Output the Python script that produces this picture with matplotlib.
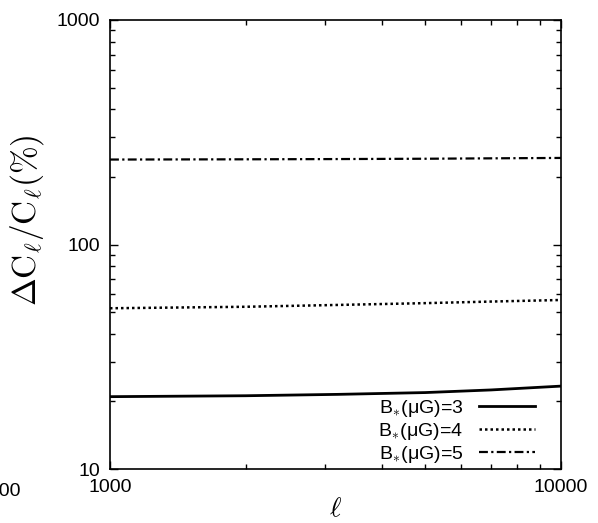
import matplotlib
matplotlib.use("Agg")
from matplotlib import pyplot as plt
from matplotlib.ticker import FixedLocator, NullFormatter, LogLocator
import numpy as np

plt.rcParams['font.family'] = ['Liberation Sans', 'DejaVu Sans']
plt.rcParams['mathtext.fontset'] = 'cm'

# values
ell = [1000, 2000, 3200, 5000, 7000, 10000]
b3 = [21.0, 21.2, 21.5, 21.9, 22.5, 23.4]
b4 = [52.0, 52.8, 53.8, 54.8, 55.7, 56.6]
b5 = [239.0, 239.6, 240.2, 241.0, 242.0, 243.0]
labels = [r'B$_{*}$(μG)=3', r'B$_{*}$(μG)=4', r'B$_{*}$(μG)=5']

fig = plt.figure(figsize=(5.98, 5.23), dpi=100)
ax = fig.add_axes([110/598, 1-469/523, 451/598, 449/523])

ax.plot(ell, b3, color='black', lw=2.0, ls='-', label=labels[0])
ax.plot(ell, b4, color='black', lw=1.8, ls=(0, (1, 1.2)), label=labels[1])
ax.plot(ell, b5, color='black', lw=1.6, ls=(0, (4, 1.5, 1, 1.5)), label=labels[2])

ax.set_xscale('log')
ax.set_yscale('log')
ax.set_xlim(1000, 10000)
ax.set_ylim(10, 1000)

ax.xaxis.set_major_locator(FixedLocator([1000, 10000]))
ax.xaxis.set_minor_locator(LogLocator(base=10, subs=np.arange(2, 10)))
ax.xaxis.set_minor_formatter(NullFormatter())
ax.set_xticklabels(['1000', '10000'])
ax.yaxis.set_major_locator(FixedLocator([10, 100, 1000]))
ax.yaxis.set_minor_locator(LogLocator(base=10, subs=np.arange(2, 10)))
ax.yaxis.set_minor_formatter(NullFormatter())
ax.set_yticklabels(['10', '100', '1000'])

ax.tick_params(which='both', direction='in', top=True, right=True, labelsize=14, width=1)
ax.tick_params(which='major', length=6, pad=7)
ax.tick_params(which='minor', length=3.5)
for s in ax.spines.values():
    s.set_linewidth(1.2)

ax.set_xlabel(r'$\ell$', fontsize=20, labelpad=0)
ax.set_ylabel(r'$\Delta\mathrm{C}_\ell/\mathrm{C}_\ell(\%)$', fontsize=24)
ax.yaxis.set_label_coords(-0.142, 0.555)

ax.legend(loc='lower right', frameon=False, markerfirst=False, fontsize=14,
          handlelength=2.9, handletextpad=0.8, labelspacing=0.1,
          borderaxespad=0.1, bbox_to_anchor=(0.965, -0.013))

# stray clipped tick label at the far left (cut off in the original too)
fig.text(21/598, 1-491/523, '1000', ha='right', va='center', fontsize=14)

fig.savefig('out.png', dpi=100)
